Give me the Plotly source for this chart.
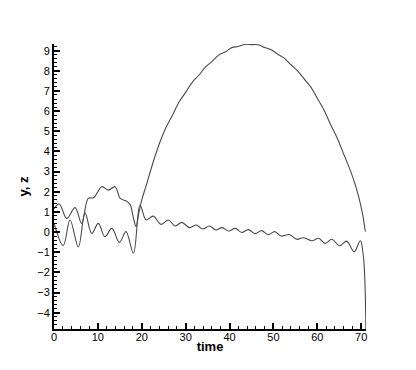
import plotly.graph_objects as go

# Curve 1 (rises into the large arch)
t_arch = [0.0, 1.2, 2.9, 4.8, 6.3, 7.8, 9.0, 10.9, 12.4, 13.9, 15.1, 16.6, 17.4, 18.0, 18.7,
          19.3, 20.0, 21.0, 22.5, 24.0, 25.5, 27.0, 28.5, 30.0, 31.5, 33.0, 34.5, 36.0, 37.5,
          39.0, 40.5, 42.0, 43.5, 45.0, 46.5, 48.0, 49.5, 51.0, 52.5, 54.0, 55.5, 57.0, 58.5,
          60.0, 61.5, 63.0, 64.5, 66.0, 67.5, 68.5, 69.3, 69.8, 70.4, 70.9, 71.0]
v_arch = [1.15, 1.39, 0.68, 1.21, 0.43, 1.67, 1.70, 2.25, 2.08, 2.25, 1.67, 1.52, 1.35, 0.80, 0.27,
          0.90, 1.60, 2.30, 3.40, 4.38, 5.18, 5.80, 6.45, 6.93, 7.43, 7.78, 8.18, 8.46, 8.78,
          8.93, 9.15, 9.21, 9.31, 9.30, 9.29, 9.16, 9.04, 8.82, 8.62, 8.30, 8.00, 7.60, 7.20,
          6.64, 6.07, 5.35, 4.68, 3.88, 3.07, 2.45, 1.85, 1.42, 0.80, 0.10, 0.02]

# Curve 2 (oscillating, plunges at the end)
t_osc = [0.0, 2.1, 3.65, 5.55, 7.07, 8.6, 10.1, 11.6, 13.2, 14.9, 16.4, 18.1, 19.6, 21.0,
         22.6, 24.4, 26.1, 27.6, 29.1, 30.9, 32.4, 33.9, 35.4, 36.9, 38.3, 39.8, 41.3, 42.8,
         44.3, 45.8, 47.3, 48.8, 50.3, 51.8, 53.6, 55.3, 56.9, 58.8, 60.3, 61.8, 63.3, 65.1,
         66.7, 68.4, 69.8, 70.5, 70.9, 71.12]
v_osc = [0.45, -0.67, 0.60, -0.74, 0.95, -0.07, 0.43, -0.23, 0.18, -0.51, 0.02, -1.05, 1.34, 0.60,
         0.79, 0.38, 0.60, 0.30, 0.48, 0.22, 0.35, 0.15, 0.30, 0.10, 0.22, 0.05, 0.18, -0.02,
         0.12, -0.08, 0.07, -0.13, 0.02, -0.20, -0.12, -0.36, -0.28, -0.43, -0.31, -0.56, -0.36, -0.68,
         -0.45, -0.98, -0.43, -1.20, -2.80, -6.0]

x_ticks = [0, 10, 20, 30, 40, 50, 60, 70]
y_ticks = [-4, -3, -2, -1, 0, 1, 2, 3, 4, 5, 6, 7, 8, 9]

FONT = "Liberation Sans, Arial, sans-serif"
line = dict(color="#4a4a4a", width=1.1, shape="spline", smoothing=1.0)

fig = go.Figure()
fig.add_trace(go.Scatter(x=t_arch, y=v_arch, mode="lines", line=line, showlegend=False))
fig.add_trace(go.Scatter(x=t_osc, y=v_osc, mode="lines", line=line, showlegend=False))

fig.update_layout(
    width=408, height=362,
    margin=dict(l=46, r=50, t=36, b=41),
    paper_bgcolor="white", plot_bgcolor="white",
    font=dict(family=FONT, size=11, color="black"),
)
fig.update_xaxes(
    range=[0, 71.1], tickvals=x_ticks, showgrid=False, zeroline=False, automargin=False,
    showline=True, linecolor="black", linewidth=2,
    ticks="inside", ticklen=6, tickwidth=2, tickcolor="black",
    minor=dict(dtick=2, ticks="inside", ticklen=3, tickwidth=1, tickcolor="black", showgrid=False),
    title=dict(text="<b>time</b>", font=dict(family=FONT, size=13), standoff=0),
    tickfont=dict(size=11), ticklabelstandoff=-3,
)
fig.update_yaxes(
    range=[-4.81, 9.33], tickvals=y_ticks, showgrid=False, zeroline=False, automargin=False,
    showline=True, linecolor="black", linewidth=2,
    ticks="inside", ticklen=6, tickwidth=2, tickcolor="black",
    minor=dict(dtick=0.2, tick0=0, ticks="inside", ticklen=3, tickwidth=1, tickcolor="black", showgrid=False),
    title=dict(text="<b>y, z</b>", font=dict(family=FONT, size=13), standoff=6),
    tickfont=dict(size=11),
)

fig.write_html("out.html")
